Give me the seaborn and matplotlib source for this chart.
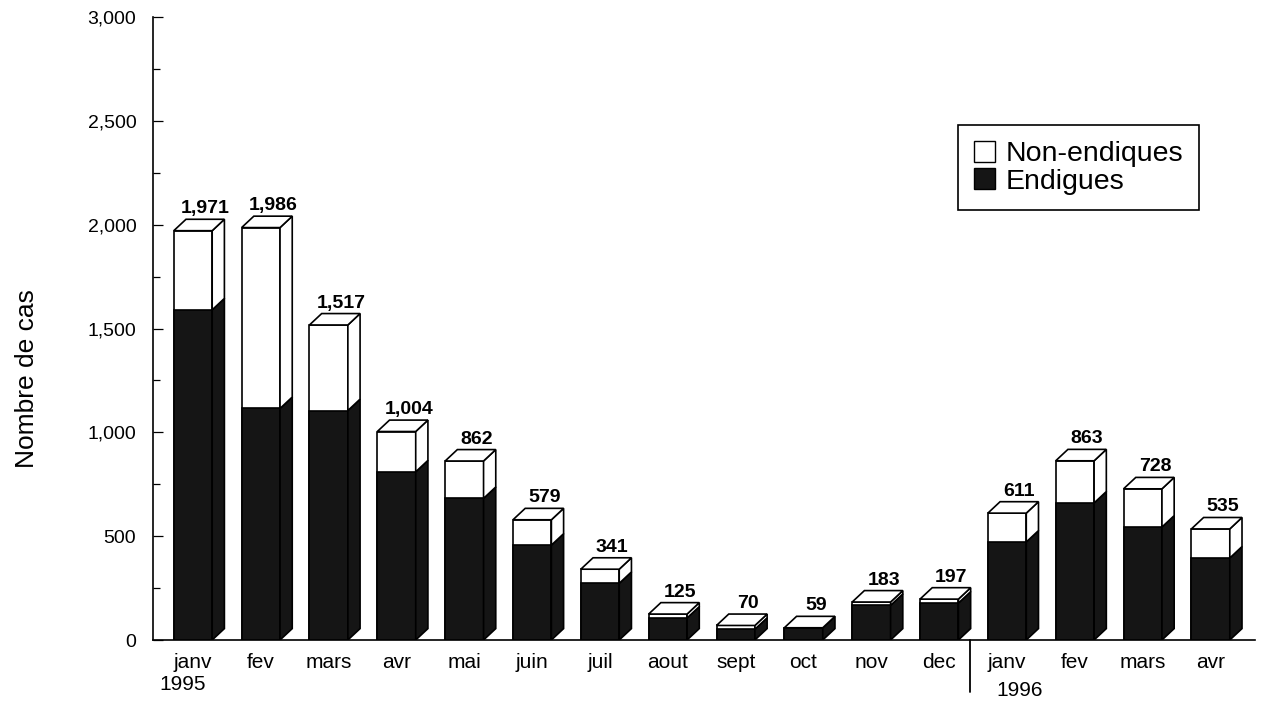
import matplotlib
matplotlib.use("Agg")
import matplotlib.pyplot as plt
import matplotlib.transforms as mtransforms
from matplotlib.patches import Polygon, Patch
from matplotlib.ticker import MultipleLocator, FuncFormatter
import numpy as np
import pandas as pd
import seaborn as sns

# Monthly case counts, janv 1995 -> avr 1996
months = ["janv", "fev", "mars", "avr", "mai", "juin", "juil", "aout",
          "sept", "oct", "nov", "dec", "janv", "fev", "mars", "avr"]
total_cases = [1971, 1986, 1517, 1004, 862, 579, 341, 125,
               70, 59, 183, 197, 611, 863, 728, 535]
endigues = [1590, 1115, 1105, 810, 682, 457, 273, 106,
            52, 59, 167, 178, 472, 660, 544, 395]
years = ["1995", "1996"]
legend_labels = ["Non-endiques", "Endigues"]

sns.set_theme(style="white")
plt.rcParams["font.family"] = ["Liberation Sans", "DejaVu Sans"]
plt.rcParams["text.color"] = "black"
plt.rcParams["axes.labelcolor"] = "black"
plt.rcParams["xtick.color"] = "black"
plt.rcParams["ytick.color"] = "black"

df = pd.DataFrame({"slot": np.arange(len(months)),
                   "total": total_cases,
                   "endigues": endigues})

DARK = "#151515"
BAR_W = 0.566
DX = 0.18      # depth offset along x (data units)
DY = 55.0      # depth offset along y (data units)
EDGE_LW = 1.2

fig = plt.figure(figsize=(12.61, 7.03), dpi=100)
ax = fig.add_axes([0.1213, 0.0896, 0.8737, 0.8862])

# Front faces: full totals in white, endigues share in dark on top
sns.barplot(data=df, x="slot", y="total", color="white", saturation=1,
            width=BAR_W, edgecolor="black", linewidth=EDGE_LW, ax=ax, zorder=2)
sns.barplot(data=df, x="slot", y="endigues", color=DARK, saturation=1,
            width=BAR_W, edgecolor="black", linewidth=EDGE_LW, ax=ax, zorder=3)

n = len(months)
front_total = ax.patches[:n]
front_dark = ax.patches[n:2 * n]

# Side and top faces to give the bars depth
for pt, pd_ in zip(front_total, front_dark):
    x0 = pt.get_x()
    x1 = x0 + pt.get_width()
    t = pt.get_height()
    e = pd_.get_height()
    ax.add_patch(Polygon([(x1, 0), (x1 + DX, DY), (x1 + DX, e + DY), (x1, e)],
                         closed=True, facecolor=DARK, edgecolor="black",
                         linewidth=EDGE_LW, zorder=3))
    if t > e:
        ax.add_patch(Polygon([(x1, e), (x1 + DX, e + DY), (x1 + DX, t + DY), (x1, t)],
                             closed=True, facecolor="white", edgecolor="black",
                             linewidth=EDGE_LW, zorder=3))
    ax.add_patch(Polygon([(x0, t), (x0 + DX, t + DY), (x1 + DX, t + DY), (x1, t)],
                         closed=True, facecolor="white", edgecolor="black",
                         linewidth=EDGE_LW, zorder=4))
    ax.text(x0 + pt.get_width() / 2 + DX, t + DY + 29, f"{int(t):,}",
            ha="center", va="baseline", fontsize=14, fontweight="bold",
            color="black", zorder=5)

ax.set_xlim(-0.59, 15.65)
ax.set_ylim(0, 3000)

# Axes styling
for side in ("top", "right"):
    ax.spines[side].set_visible(False)
for side in ("left", "bottom"):
    ax.spines[side].set_color("black")
    ax.spines[side].set_linewidth(1.2)

ax.yaxis.set_major_locator(MultipleLocator(500))
ax.yaxis.set_minor_locator(MultipleLocator(250))
ax.yaxis.set_major_formatter(FuncFormatter(lambda v, _: f"{int(v):,}"))
ax.tick_params(axis="y", which="both", left=True, direction="in",
               color="black", width=0.9, labelsize=14, pad=12)
ax.tick_params(axis="y", which="major", length=7)
ax.tick_params(axis="y", which="minor", length=5)

ax.set_xticks(range(n))
ax.set_xticklabels(months)
ax.tick_params(axis="x", length=0, pad=9, labelsize=15)
ax.set_xlabel("")

ax.set_ylabel("Nombre de cas", fontsize=19)
ax.yaxis.set_label_coords(-0.103, 0.419)

# Year annotations and the year separator below the axis
trans = mtransforms.blended_transform_factory(ax.transData, ax.transAxes)
ax.text(-0.15, -0.071, years[0], transform=trans, ha="center", va="center",
        fontsize=15)
ax.text(12.18, -0.081, years[1], transform=trans, ha="center", va="center",
        fontsize=15)
ax.plot([11.46, 11.46], [0, -0.084], transform=trans, color="black",
        linewidth=1.3, clip_on=False)

# Legend
handles = [Patch(facecolor="white", edgecolor="black", linewidth=1.0),
           Patch(facecolor=DARK, edgecolor="black", linewidth=1.0)]
leg = ax.legend(handles, legend_labels, loc="upper left",
                bbox_to_anchor=(0.731, 0.8266), borderaxespad=0,
                fontsize=20.5, frameon=True, fancybox=False, shadow=False,
                handlelength=0.75, handleheight=0.75, handletextpad=0.35,
                labelspacing=0.05, borderpad=0.55)
leg.get_frame().set_edgecolor("black")
leg.get_frame().set_linewidth(1.2)
leg.get_frame().set_alpha(1)

fig.savefig("out.png", dpi=100, facecolor="white")
